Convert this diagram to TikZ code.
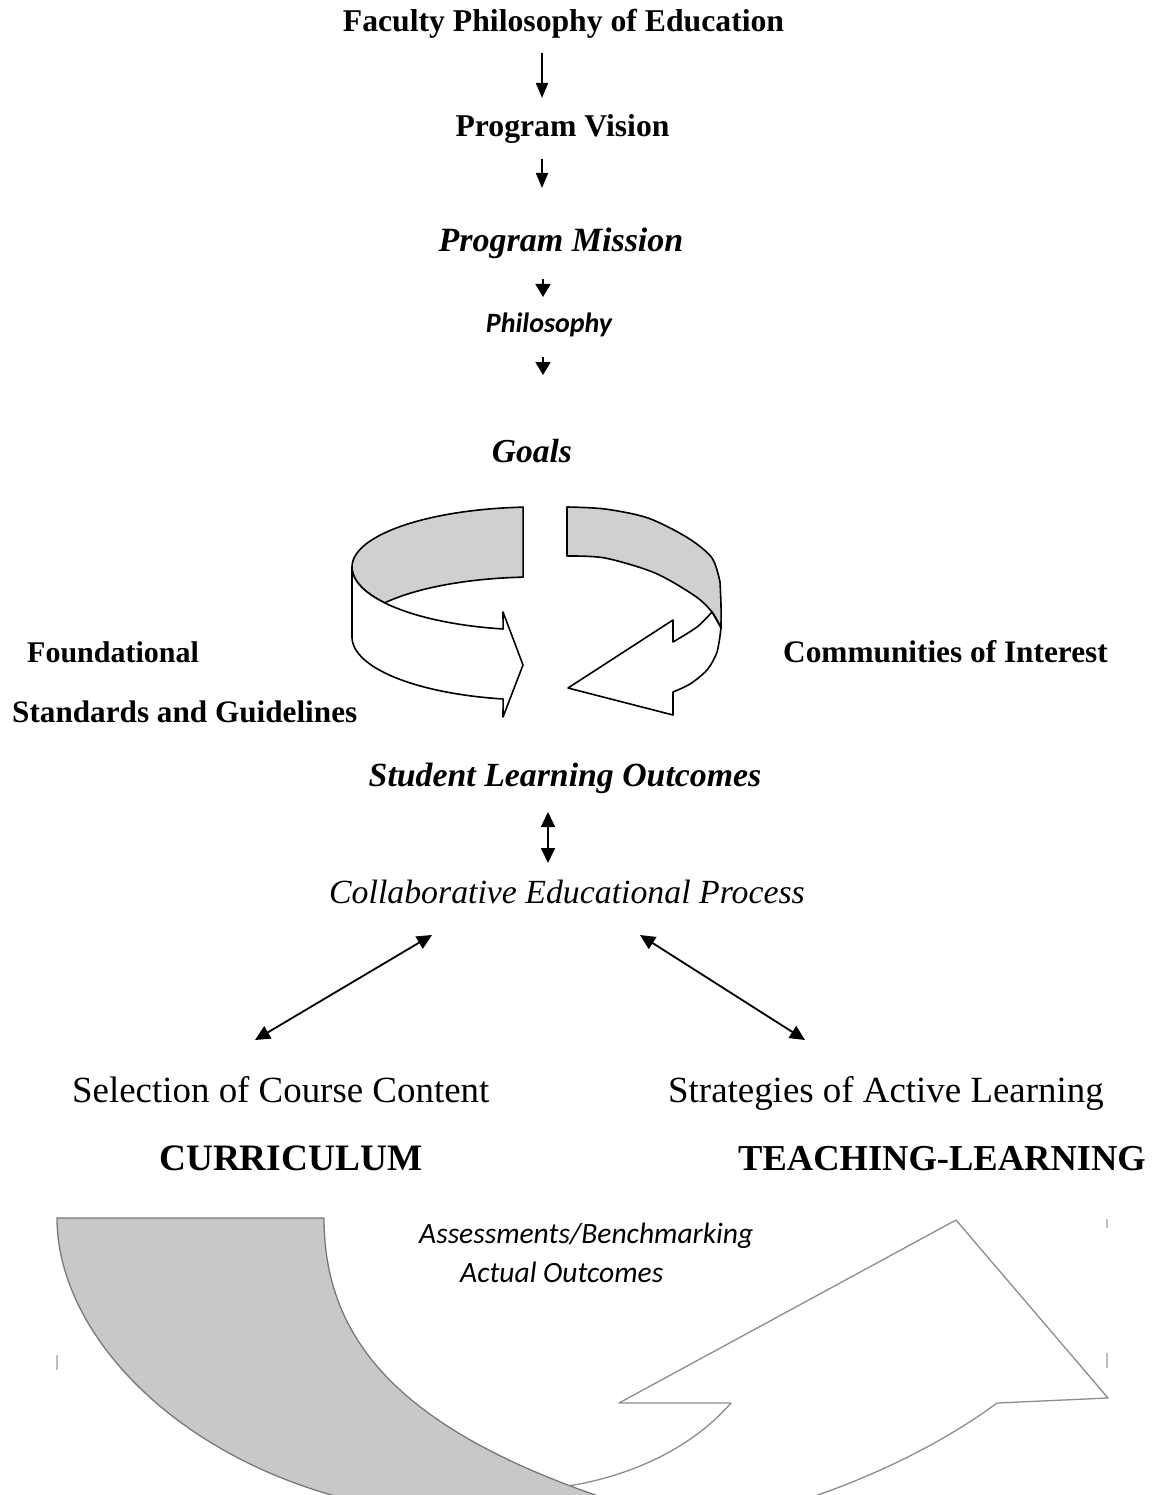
\documentclass[tikz,border=0pt]{standalone}
\usepackage{fontspec}
\setmainfont{Liberation Serif}
\newfontfamily\calibri{Carlito}
\usetikzlibrary{arrows.meta}
\begin{document}
\begin{tikzpicture}[x=1pt,y=-1pt,
  txt/.style={inner sep=0pt, anchor=base},
  txtw/.style={inner sep=0pt, anchor=base west},
  arrA/.style={line width=1.8pt, -{Triangle[length=15pt,width=12pt]}},
  arrB/.style={line width=1.8pt, -{Triangle[length=13pt,width=15pt]}},
  arrD/.style={line width=1.8pt, {Triangle[length=15pt,width=14pt]}-{Triangle[length=15pt,width=14pt]}},
  ringgray/.style={fill={rgb,255:red,208;green,208;blue,208}, draw=black, line width=1.6pt, line join=round},
  ringwhite/.style={fill=white, draw=black, line width=1.6pt, line join=round},
  botgray/.style={fill={rgb,255:red,200;green,200;blue,200}, draw={rgb,255:red,120;green,120;blue,120}, line width=1.3pt, line join=round},
  botwhite/.style={fill=white, draw={rgb,255:red,140;green,140;blue,140}, line width=1.3pt, line join=round},
  tick/.style={draw={rgb,255:red,190;green,190;blue,190}, line width=2pt}
]
\useasboundingbox (0,0) rectangle (1157,1495);

% ---------------- top chain ----------------
\node[txt, font=\fontsize{31.7}{36}\selectfont\bfseries] (fac) at (563.5,32) {Faculty Philosophy of Education};
\node[txt, font=\fontsize{31.7}{36}\selectfont\bfseries] (vis) at (562.5,137) {Program Vision};
\node[txt, font=\fontsize{34}{38}\selectfont\bfseries\itshape] (mis) at (561,252) {Program Mission};
\node[txt, font=\calibri\fontsize{28}{32}\selectfont\bfseries\itshape] (phi) at (549,332) {Philosophy};
\node[txt, font=\fontsize{33.5}{38}\selectfont\bfseries\itshape] (goa) at (532,462) {Goals};

\coordinate (a1s) at (542,53);  \coordinate (a1e) at (542,98);
\coordinate (a2s) at (542,159); \coordinate (a2e) at (542,188);
\coordinate (a3s) at (543,279); \coordinate (a3e) at (543,297);
\coordinate (a4s) at (543,357); \coordinate (a4e) at (543,375);
\draw[arrA] (a1s) -- (a1e);
\draw[arrA] (a2s) -- (a2e);
\draw[arrB] (a3s) -- (a3e);
\draw[arrB] (a4s) -- (a4e);

% ---------------- ring arrows ----------------
\filldraw[ringgray]
  plot[domain=180:266, samples=40] ({536+184*cos(\x)},{567+60*sin(\x)})
  -- plot[domain=266:214.7, samples=30] ({536+184*cos(\x)},{637+60*sin(\x)})
  -- plot[domain=145.3:180, samples=20] ({536+184*cos(\x)},{567+63*sin(\x)})
  -- cycle;
\filldraw[ringwhite]
  plot[domain=180:100.3, samples=40] ({536+184*cos(\x)},{567+63*sin(\x)})
  -- (503,612) -- (523,665) -- (503,717)
  -- plot[domain=100.3:180, samples=40] ({536+184*cos(\x)},{637+63*sin(\x)})
  -- cycle;
\filldraw[ringgray]
  plot[smooth] coordinates {(567,507) (605,509) (648,518) (688,538) (712,558) (720,582)}
  -- plot[smooth] coordinates {(720,582) (721,605) (721,628)}
  -- plot[smooth] coordinates {(721,628) (712,612) (695,596) (655,573) (605,558) (567,556)}
  -- cycle;
\filldraw[ringwhite]
  plot[smooth] coordinates {(712,612) (697,627) (673,642)}
  -- (673,620) -- (568,688) -- (673,715)
  -- plot[smooth] coordinates {(673,692) (690,684) (707,670) (717,652) (721,628)}
  -- plot[smooth] coordinates {(721,628) (716,619) (712,612)}
  -- cycle;

% side labels
\node[txtw, font=\fontsize{30}{34}\selectfont\bfseries] (fnd) at (27,662) {Foundational};
\node[txtw, font=\fontsize{31.2}{35}\selectfont\bfseries] (std) at (12,722) {Standards and Guidelines};
\node[txtw, font=\fontsize{31.3}{35}\selectfont\bfseries] (com) at (783,662) {Communities of Interest};

% ---------------- middle ----------------
\node[txt, font=\fontsize{33.8}{38}\selectfont\bfseries\itshape] (slo) at (565,786) {Student Learning Outcomes};
\node[txt, font=\fontsize{33.8}{38}\selectfont\itshape] (cep) at (567,903) {Collaborative Educational Process};
\coordinate (d0s) at (548,812); \coordinate (d0e) at (548,863);
\draw[arrD] (d0s) -- (d0e);

\node[txtw, font=\fontsize{36.9}{41}\selectfont] (sel) at (72,1102) {Selection of Course Content};
\node[txtw, font=\fontsize{36.9}{41}\selectfont] (sal) at (668,1102) {Strategies of Active Learning};
\node[txtw, font=\fontsize{37.3}{41}\selectfont\bfseries] (cur) at (159,1170) {CURRICULUM};
\node[txtw, font=\fontsize{36.5}{41}\selectfont\bfseries] (tl) at (738,1170) {TEACHING-LEARNING};

\coordinate (dLt) at (432,935); \coordinate (dLb) at (255,1040);
\coordinate (dRt) at (640,935); \coordinate (dRb) at (805,1040);
\draw[arrD] (dLt) -- (dLb);
\draw[arrD] (dRt) -- (dRb);

% ---------------- bottom cycle shapes ----------------
\begin{scope}
\clip (0,0) rectangle (1157,1495);
\filldraw[botwhite]
  (540,1500) .. controls (550,1490) and (560,1487) .. (574,1485)
  .. controls (630,1475) and (690,1450) .. (731,1403)
  -- (619,1403) -- (956,1220) -- (1108,1398) -- (997,1403)
  .. controls (940,1445) and (870,1478) .. (803,1500)
  -- (803,1520) -- (540,1520) -- cycle;
\filldraw[botgray]
  (57,1218) -- (324,1218)
  .. controls (324,1340) and (400,1430) .. (610,1500)
  -- (610,1520) -- (350,1520) -- (350,1500)
  .. controls (170,1455) and (57,1330) .. (57,1218)
  -- cycle;
\end{scope}
\draw[tick] (57,1355) -- (57,1370);
\draw[tick] (1107,1219) -- (1107,1228);
\draw[tick] (1107,1353) -- (1107,1368);

\node[txtw, font=\calibri\fontsize{29.5}{34}\selectfont\itshape] (asm) at (419,1243) {Assessments/Benchmarking};
\node[txtw, font=\calibri\fontsize{29.5}{34}\selectfont\itshape] (act) at (460,1282) {Actual Outcomes};
\end{tikzpicture}
\end{document}
